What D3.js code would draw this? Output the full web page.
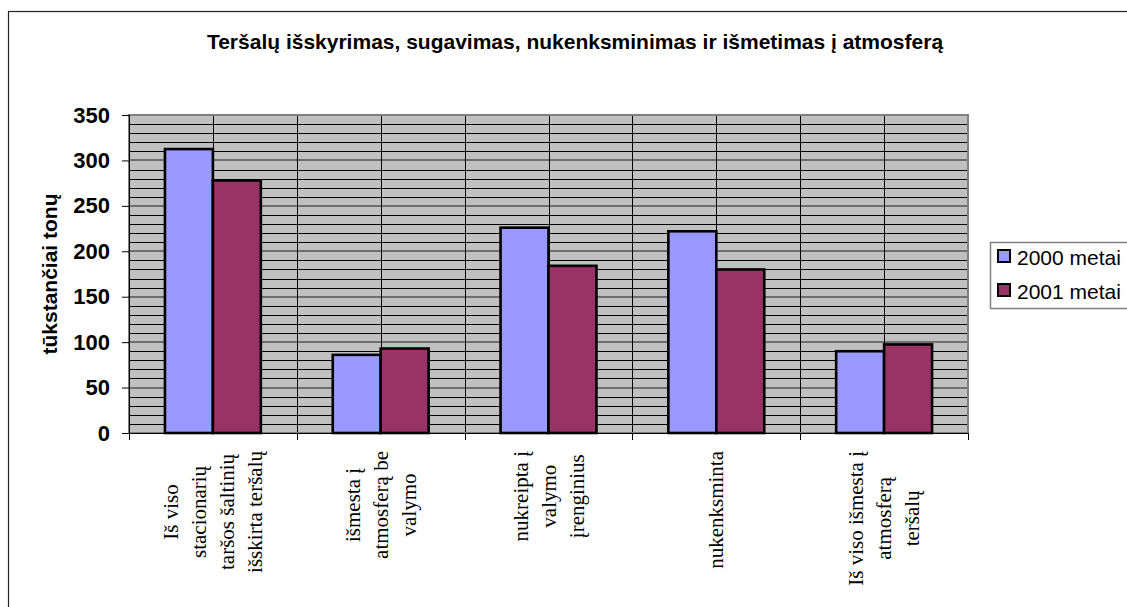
<!DOCTYPE html>
<html>
<head>
<meta charset="utf-8">
<script src="https://cdn.jsdelivr.net/npm/d3@7"></script>
<style>
  body { margin: 0; background: #fff; }
  svg { display: block; }
</style>
</head>
<body>
<div id="canvas"></div>
<script>
// chart data
const categories = [
	['Iš viso', 'stacionarių', 'taršos šaltinių', 'išskirta teršalų'],
	['išmesta į', 'atmosferą be', 'valymo'],
	['nukreipta į', 'valymo', 'įrenginius'],
	['nukenksminta'],
	['Iš viso išmesta į', 'atmosferą', 'teršalų']
];
const seriesNames = ['2000 metai', '2001 metai'];
const values2000 = [312.5, 86, 226, 222, 90];
const values2001 = [278, 93, 184, 180, 97.5];
const yTicks = [0, 50, 100, 150, 200, 250, 300, 350];
const colors = ['#9999ff', '#993366'];

const W = 1127, H = 607;
const M = {t: 115, r: 159, b: 174, l: 129}; // plot area box
const PW = W - M.l - M.r, PH = H - M.t - M.b;

const svg = d3.select('#canvas').append('svg')
	.attr('width', W)
	.attr('height', H);

// outer chart frame (runs off the right/bottom edge)
svg.append('rect')
	.attr('x', 8.5).attr('y', 11.5)
	.attr('width', 1300).attr('height', 800)
	.attr('fill', '#fff')
	.attr('stroke', '#222')
	.attr('stroke-width', 1.2);

svg.append('text')
	.attr('x', 575).attr('y', 49)
	.attr('text-anchor', 'middle')
	.style('font', 'bold 21px Arial, "Liberation Sans", sans-serif')
	.text('Teršalų išskyrimas, sugavimas, nukenksminimas ir išmetimas į atmosferą');

const x = d3.scaleBand().domain(d3.range(categories.length)).range([0, PW]).padding(0);
const xs = d3.scaleBand().domain([0, 1]).range([0, x.bandwidth()]).paddingInner(0).paddingOuter(0.75);
const y = d3.scaleLinear().domain([0, 350]).range([PH, 0]);

const plot = svg.append('g').attr('transform', 'translate(' + M.l + ',' + M.t + ')');

plot.append('rect')
	.attr('width', PW).attr('height', PH)
	.attr('fill', '#c0c0c0');

// minor horizontal grid every 10
plot.selectAll('.minor').data(d3.range(10, 350, 10).filter(d => d % 50 !== 0))
	.enter().append('line')
	.attr('class', 'minor')
	.attr('x1', 0).attr('x2', PW)
	.attr('y1', d => Math.round(y(d)) + 0.5).attr('y2', d => Math.round(y(d)) + 0.5)
	.attr('stroke', '#000').attr('stroke-width', 1);

// major horizontal grid
plot.selectAll('.major').data(yTicks.slice(1, -1))
	.enter().append('line')
	.attr('class', 'major')
	.attr('x1', 0).attr('x2', PW)
	.attr('y1', d => Math.round(y(d))).attr('y2', d => Math.round(y(d)))
	.attr('stroke', '#6e6e6e').attr('stroke-width', 2);

// vertical grid every half category
plot.selectAll('.vgrid').data(d3.range(1, categories.length * 2))
	.enter().append('line')
	.attr('class', 'vgrid')
	.attr('x1', d => Math.round(d * x.bandwidth() / 2) + 0.5)
	.attr('x2', d => Math.round(d * x.bandwidth() / 2) + 0.5)
	.attr('y1', 0).attr('y2', PH)
	.attr('stroke', '#000').attr('stroke-width', 1);

// plot border
plot.append('rect')
	.attr('width', PW).attr('height', PH)
	.attr('fill', 'none')
	.attr('stroke', '#808080').attr('stroke-width', 2);

// bars
const series = [values2000, values2001];
series.forEach((vals, s) => {
	plot.selectAll('.bar' + s).data(vals)
		.enter().append('rect')
		.attr('class', 'bar' + s)
		.attr('x', (d, i) => x(i) + xs(s))
		.attr('y', d => y(d))
		.attr('width', xs.bandwidth())
		.attr('height', d => PH - y(d))
		.attr('fill', colors[s])
		.attr('stroke', '#000')
		.attr('stroke-width', 2.6);
});

// y axis
const yAxis = plot.append('g')
	.call(d3.axisLeft(y).tickValues(yTicks).tickSize(7).tickPadding(12));
yAxis.select('.domain').attr('stroke', '#000').attr('d', 'M0.5,0V' + PH);
yAxis.selectAll('.tick line').attr('stroke', '#000');
yAxis.selectAll('text')
	.attr('fill', '#000')
	.style('font', 'bold 22px Arial, "Liberation Sans", sans-serif');

// x axis ticks at category boundaries
const xAxis = plot.append('g').attr('transform', 'translate(0,' + PH + ')');
xAxis.append('line').attr('x1', 0).attr('x2', PW).attr('y1', 0.5).attr('y2', 0.5).attr('stroke', '#000');
xAxis.selectAll('.xt').data(d3.range(categories.length + 1))
	.enter().append('line')
	.attr('x1', d => Math.round(d * x.step()) + 0.5)
	.attr('x2', d => Math.round(d * x.step()) + 0.5)
	.attr('y1', 0).attr('y2', 7)
	.attr('stroke', '#000');

// rotated category labels, block anchored near the axis, lines centred
const lh = 28;
const labels = xAxis.selectAll('.xl').data(categories)
	.enter().append('g')
	.attr('class', 'xl');
labels.each(function(lines, i) {
	const g = d3.select(this);
	const t = g.append('text')
		.attr('text-anchor', 'middle')
		.style('font', '21px "Times New Roman", "Liberation Serif", serif')
		.attr('fill', '#000');
	lines.forEach((ln, j) => {
		t.append('tspan')
			.attr('x', 0)
			.attr('y', (j - (lines.length - 1) / 2) * lh)
			.attr('dominant-baseline', 'central')
			.text(ln);
	});
	let maxLen = 0;
	t.selectAll('tspan').each(function() { maxLen = Math.max(maxLen, this.getComputedTextLength()); });
	g.attr('transform', 'translate(' + (x(i) + x.bandwidth() / 2) + ',' + (18 + maxLen / 2) + ') rotate(-90)');
});

// y axis title
svg.append('text')
	.attr('transform', 'translate(57,' + (M.t + PH / 2) + ') rotate(-90)')
	.attr('text-anchor', 'middle')
	.style('font', 'bold 21px Arial, "Liberation Sans", sans-serif')
	.text('tūkstančiai tonų');

// legend
const lg = svg.append('g').attr('transform', 'translate(990,242)');
lg.append('rect')
	.attr('x', 0.5).attr('y', 0.5)
	.attr('width', 300).attr('height', 66)
	.attr('fill', '#fff')
	.attr('stroke', '#808080').attr('stroke-width', 1.5);
const li = lg.selectAll('.li').data(seriesNames)
	.enter().append('g')
	.attr('transform', (d, i) => 'translate(0,' + (i * 34) + ')');
li.append('rect')
	.attr('x', 8).attr('y', 8)
	.attr('width', 12).attr('height', 12)
	.attr('fill', (d, i) => colors[i])
	.attr('stroke', '#000').attr('stroke-width', 2);
li.append('text')
	.attr('x', 27).attr('y', 23)
	.style('font', '21px Arial, "Liberation Sans", sans-serif')
	.text(d => d);
</script>
</body>
</html>
